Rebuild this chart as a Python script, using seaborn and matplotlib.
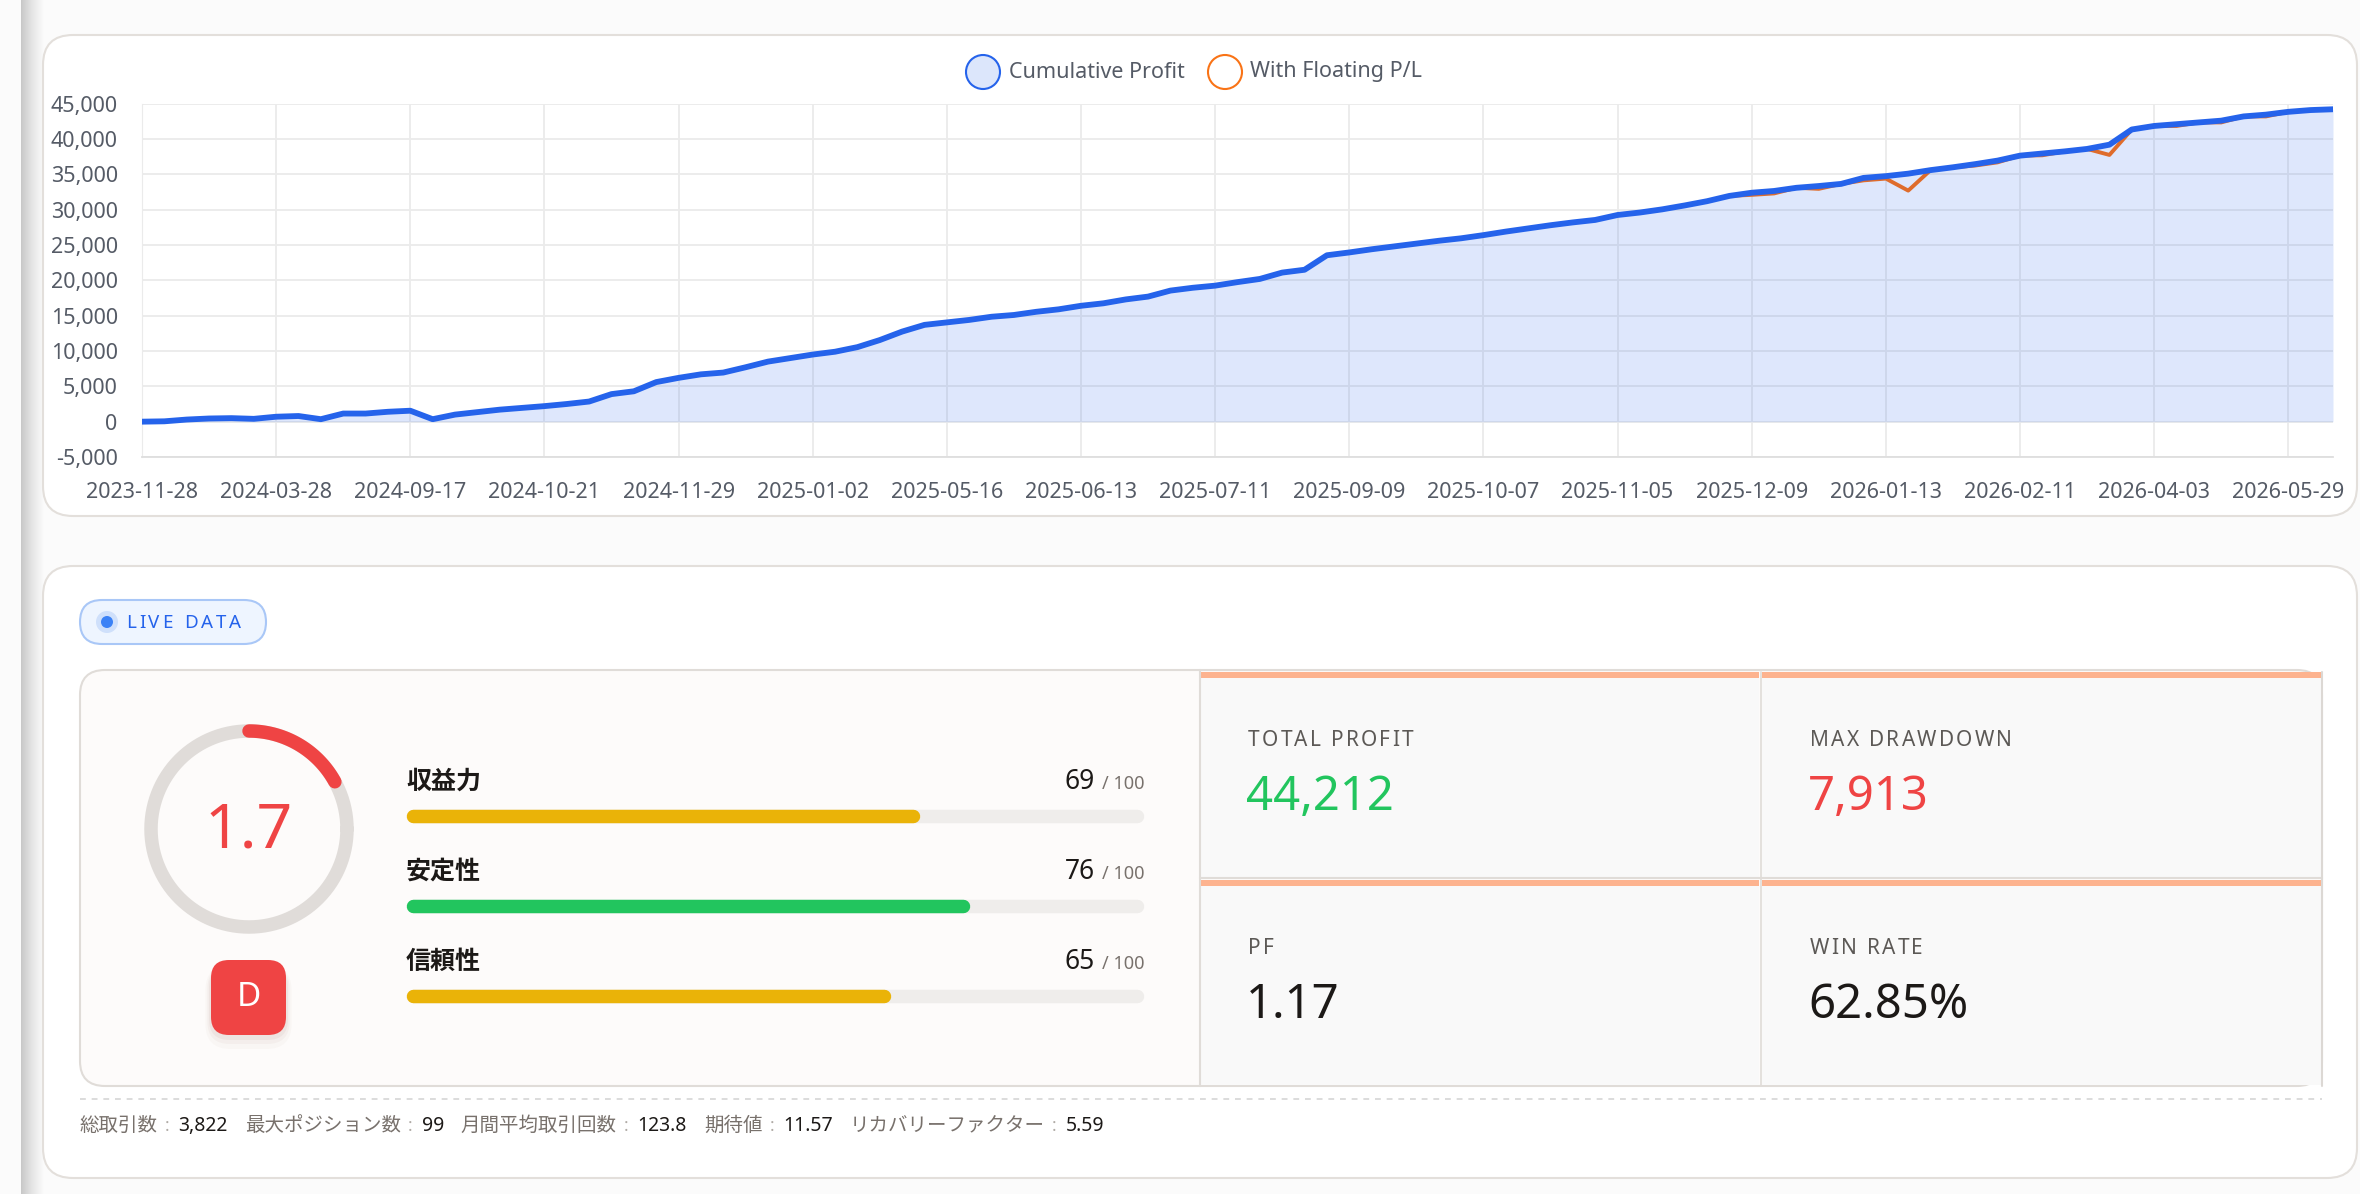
import numpy as np
import pandas as pd
import seaborn as sns
import matplotlib.pyplot as plt
from matplotlib.patches import FancyBboxPatch, Circle, Rectangle
from matplotlib.colors import LinearSegmentedColormap
from matplotlib.ticker import FuncFormatter

# ---- data ----
tick_dates = ["2023-11-28", "2024-03-28", "2024-09-17", "2024-10-21", "2024-11-29",
              "2025-01-02", "2025-05-16", "2025-06-13", "2025-07-11", "2025-09-09",
              "2025-10-07", "2025-11-05", "2025-12-09", "2026-01-13", "2026-02-11",
              "2026-04-03", "2026-05-29"]
points_per_tick = 6

cum_profit = [0, 50, 300, 450, 500, 400, 700, 800, 350, 1150,
              1150, 1400, 1550, 350, 1000, 1350, 1700, 1950, 2200, 2500,
              2850, 3900, 4300, 5600, 6200, 6700, 6950, 7700, 8500, 9000,
              9500, 9900, 10550, 11550, 12750, 13700, 14050, 14400, 14850, 15100,
              15550, 15900, 16400, 16750, 17300, 17700, 18550, 18950, 19250, 19750,
              20200, 21100, 21500, 23550, 23950, 24400, 24800, 25200, 25600, 25950,
              26400, 26900, 27350, 27800, 28200, 28550, 29250, 29600, 30050, 30600,
              31200, 31950, 32400, 32650, 33100, 33350, 33650, 34500, 34750, 35100,
              35600, 36000, 36450, 36950, 37650, 37950, 38250, 38600, 39200, 41350,
              41850, 42100, 42350, 42600, 43200, 43450, 43850, 44100, 44212]

# floating P/L follows the closed profit except at these points
float_dip_idx = [72, 73, 75, 77, 78, 79, 82, 83, 85, 88, 91, 93, 95]
float_dip_val = [32100, 32300, 32950, 34150, 34400, 32700, 36250, 36700, 37700, 37750,
                 41850, 42350, 43200]

score_labels = ["収益力", "安定性", "信頼性"]
score_values = [69, 76, 65]
score_max = 100
score_colors = ["#eab308", "#22c55e", "#eab308"]

gauge_value = 1.7
gauge_max = 10
grade = "D"

stat_labels = ["TOTAL PROFIT", "MAX DRAWDOWN", "PF", "WIN RATE"]
stat_values = ["44,212", "7,913", "1.17", "62.85%"]
stat_colors = ["#22c55e", "#ef4444", "#1c1917", "#1c1917"]

footer_labels = ["総取引数", "最大ポジション数", "月間平均取引回数", "期待値", "リカバリーファクター"]
footer_values = ["3,822", "99", "123.8", "11.57", "5.59"]

# ---- setup ----
W, H = 2360, 1194
sns.set_style("white")
plt.rcParams["font.family"] = ["Noto Sans", "Noto Sans CJK JP", "DejaVu Sans"]

fig = plt.figure(figsize=(W / 100, H / 100), dpi=100, facecolor="#fbfbfb")
rend = fig.canvas.get_renderer()


def px_axes(x0, y0, x1, y1, z=1):
    a = fig.add_axes([x0 / W, 1 - y1 / H, (x1 - x0) / W, (y1 - y0) / H], zorder=z)
    a.patch.set_alpha(0)
    return a


bg = px_axes(0, 0, W, H, z=0)
bg.axis("off")

# sidebar shadow on the left
shade = LinearSegmentedColormap.from_list("sh", ["#c8c8c8", "#e6e6e6", "#fbfbfb"])
bg.imshow(np.linspace(0, 1, 64)[None, :], extent=(21, 44, H, 0), cmap=shade, aspect="auto")
bg.set_xlim(0, W)
bg.set_ylim(H, 0)


def rbox(x0, y0, x1, y1, r, fc, ec="none", lw=0, z=1, alpha=1):
    p = FancyBboxPatch((x0, y0), x1 - x0, y1 - y0, boxstyle=f"round,pad=0,rounding_size={r}",
                       fc=fc, ec=ec, lw=lw, zorder=z, alpha=alpha)
    bg.add_patch(p)
    return p


def text_w(t):
    return t.get_window_extent(renderer=rend).width


def spaced(x, y, s, gap, **kw):
    for ch in s:
        if ch == " ":
            x += kw.get("fontsize", 12) * 100 / 72 * 0.28 + gap
            continue
        t = bg.text(x, y, ch, ha="left", **kw)
        x += text_w(t) + gap
    return x


# cards
rbox(43, 35, 2357, 516, 30, "white", "#e3dfdb", 1.5)
rbox(43, 566, 2357, 1178, 30, "white", "#e3dfdb", 1.5)

# ---- cumulative profit chart ----
floating = np.array(cum_profit, dtype=float)
floating[float_dip_idx] = float_dip_val
df = pd.DataFrame({"idx": np.arange(len(cum_profit)), "cum": cum_profit, "floating": floating})

ax = px_axes(142, 103.7, 2333, 457, z=2)
ax.set_axisbelow(True)
ax.fill_between(df["idx"], 0, df["cum"], color="#2563eb", alpha=0.15, lw=0, zorder=1)
sns.lineplot(data=df, x="idx", y="floating", color="#df6c2b", lw=2.8, ax=ax, zorder=2)
sns.lineplot(data=df, x="idx", y="cum", color="#2563eb", lw=4.2, ax=ax, zorder=3,
             solid_joinstyle="round", solid_capstyle="round")
ax.set_xlim(0, len(cum_profit) - 1)
ax.set_ylim(-5000, 45000)
ax.set_yticks(np.arange(-5000, 45001, 5000))
ax.yaxis.set_major_formatter(FuncFormatter(lambda v, p: f"{int(v):,}"))
ax.set_xticks(np.arange(0, len(tick_dates) * points_per_tick, points_per_tick))
ax.set_xticklabels(tick_dates)
ax.set_xlabel("")
ax.set_ylabel("")
ax.grid(True, color="#ebebeb", lw=1.3)
ax.tick_params(axis="y", length=11.5, width=1, color="#ebebeb", pad=6,
               labelsize=15.5, labelcolor="#555b66")
ax.tick_params(axis="x", length=12, width=1, color="#ebebeb", pad=6,
               labelsize=15.5, labelcolor="#555b66")
for s in ["top", "right"]:
    ax.spines[s].set_visible(False)
ax.spines["left"].set_color("#ebebeb")
ax.spines["bottom"].set_color("#dedede")
ax.spines["bottom"].set_linewidth(1.3)

# legend
bg.add_patch(Circle((983, 72), 17, fc="#dce6fb", ec="#2563eb", lw=1.5, zorder=3))
bg.text(1009, 72, "Cumulative Profit", fontsize=15.5, color="#555b66", va="center")
bg.add_patch(Circle((1225, 72), 17, fc="white", ec="#f97316", lw=1.5, zorder=3))
bg.text(1250, 72, "With Floating P/L", fontsize=15.5, color="#555b66", va="center")

# ---- live data pill ----
rbox(80, 600, 266, 644, 22, "#eef5ff", "#a9c7f7", 1.5, z=2)
bg.add_patch(Circle((107, 622), 11, fc="#cfe0fb", ec="none", zorder=3))
bg.add_patch(Circle((107, 622), 6, fc="#3b82f6", ec="none", zorder=4))
spaced(126, 623, "LIVE DATA", 3.0, fontsize=13.5, color="#2563eb", va="center", zorder=4)

# ---- score panel ----
rbox(80, 670, 2322, 1086, 25, "#fdfbfa", "#e0dcd8", 1.5, z=2)

# gauge
g = px_axes(249 - 130, 829 - 130, 249 + 130, 829 + 130, z=3)
g.set_xlim(-1.3, 1.3)
g.set_ylim(-1.3, 1.3)
g.axis("off")
th = np.linspace(0, 2 * np.pi, 361)
g.plot(0.98 * np.cos(th), 0.98 * np.sin(th), color="#e0dcd9", lw=9.7)
arc = np.linspace(np.pi / 2, np.pi / 2 - 2 * np.pi * gauge_value / gauge_max, 60)
g.plot(0.98 * np.cos(arc), 0.98 * np.sin(arc), color="#ef4444", lw=9.7, solid_capstyle="round")
g.text(0, -0.03, f"{gauge_value}", ha="center", va="center", fontsize=45, color="#ef4444",
       fontweight="medium")

# grade badge with soft shadow
for k, a in [(14, 0.03), (9, 0.05), (5, 0.07)]:
    rbox(211 - k * 0.4, 968 - k * 0.2, 286 + k * 0.4, 1035 + k, 18 + k * 0.5, "#9a6a5a", z=2, alpha=a)
rbox(211, 960, 286, 1035, 18, "#ef4444", z=3)
bg.text(248.5, 998, grade, ha="center", va="center", fontsize=24, color="white",
        fontweight="bold", zorder=4)

# score bars (round-capped lines on a 0-100 scale)
bars = px_axes(412.75, 771, 1137.25, 1041, z=3)
bars.set_xlim(0, score_max)
bars.set_ylim(2.5, -0.5)
bars.axis("off")
for i, (val, col) in enumerate(zip(score_values, score_colors)):
    bars.plot([0, score_max], [i, i], color="#efedeb", lw=9.7, solid_capstyle="round", clip_on=False)
    bars.plot([0, val], [i, i], color=col, lw=9.7, solid_capstyle="round", clip_on=False)

for i, (lab, val) in enumerate(zip(score_labels, score_values)):
    base = 789 + i * 90
    bg.text(406, base, lab, fontsize=18, color="#1c1917", va="baseline", fontweight="bold")
    t = bg.text(1144, base, f"/ {score_max}", fontsize=13, color="#78716c", va="baseline", ha="right")
    bg.text(1144 - text_w(t) - 7, base, f"{val}", fontsize=19, color="#1c1917",
            va="baseline", ha="right")

# ---- stat grid ----
cells = [(1200, 672), (1762, 672), (1200, 880), (1762, 880)]
for (cx, cy), lab, val, col in zip(cells, stat_labels, stat_values, stat_colors):
    bg.add_patch(Rectangle((cx, cy), 559, 205, fc="#f9f9f9", ec="none", zorder=3))
    bg.add_patch(Rectangle((cx, cy), 559, 6, fc="#fdb38f", ec="none", zorder=4))
    spaced(cx + 48, cy + 68, lab, 2.2, fontsize=15, color="#5c5956", va="center", zorder=5)
    bg.text(cx + 46, cy + 126, val, fontsize=34, color=col, va="center", zorder=5)
bg.plot([1200, 1200], [670, 1086], color="#e0dcd8", lw=1.5, zorder=6)
bg.plot([1761, 1761], [672, 1086], color="#e0dcd8", lw=1.2, zorder=6)
bg.plot([1200, 2322], [878, 878], color="#e0dcd8", lw=1.5, zorder=6)
bg.plot([2322, 2322], [672, 1086], color="#dcd8d4", lw=1.5, zorder=6)

# ---- footer ----
bg.plot([80, 2322], [1099, 1099], color="#dcdcdc", lw=1.4, ls=(0, (3, 3)))
x = 80
for lab, val in zip(footer_labels, footer_values):
    t = bg.text(x, 1126, lab, fontsize=14, color="#78716c", va="center")
    x += text_w(t) + 7
    t = bg.text(x, 1126, ":", fontsize=12.5, color="#b0aba6", va="center")
    x += text_w(t) + 9
    t = bg.text(x, 1126, val, fontsize=14, color="#1c1917", va="center", fontweight="bold")
    x += text_w(t) + 17

fig.savefig("out.png", dpi=100, facecolor=fig.get_facecolor())
